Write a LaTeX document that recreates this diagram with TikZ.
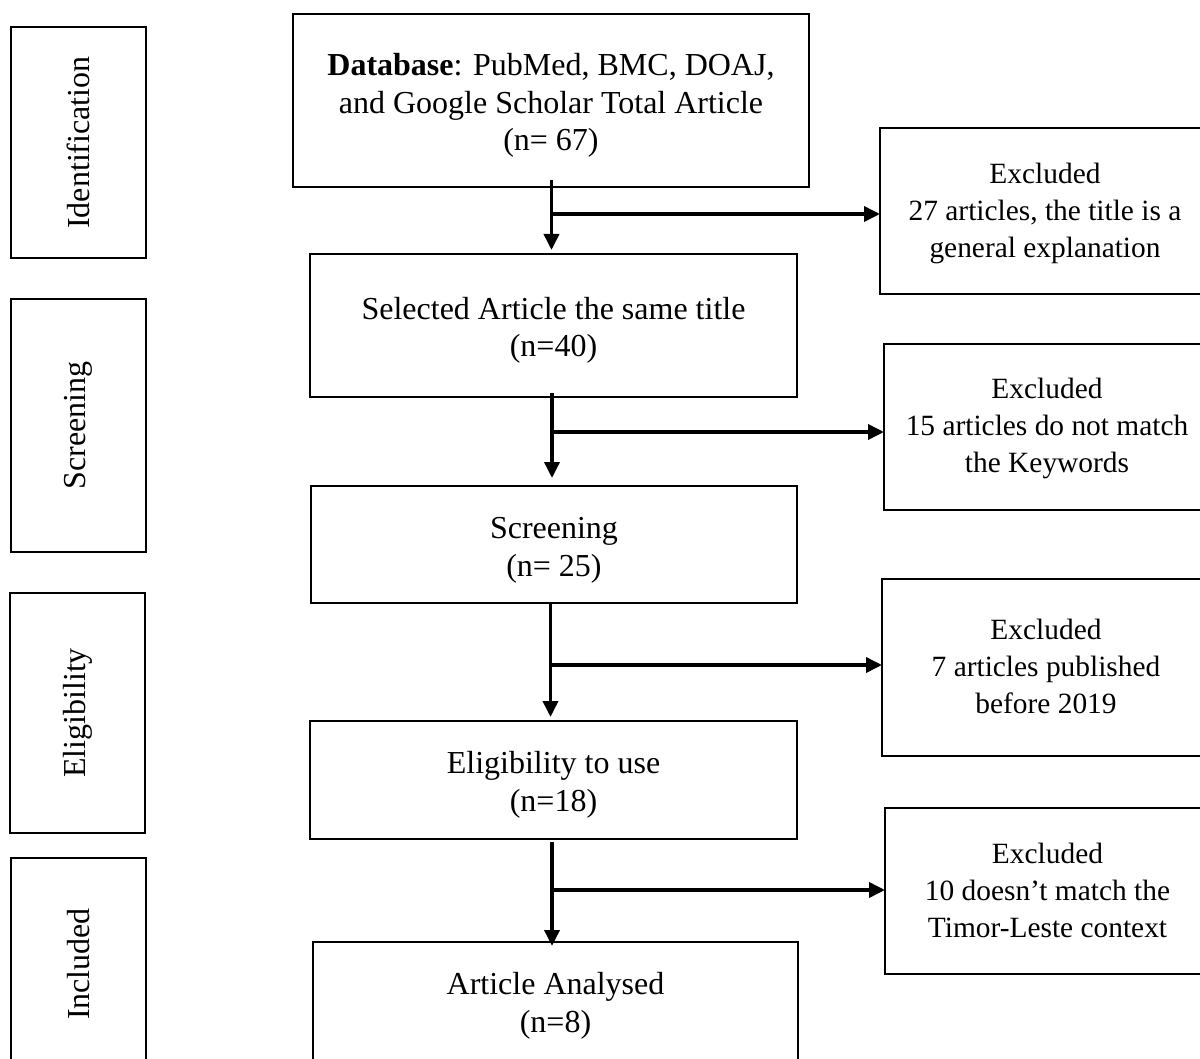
\documentclass[tikz,border=0pt]{standalone}
\usepackage{fontspec}
\setmainfont{Liberation Serif}
\usetikzlibrary{arrows.meta}
\begin{document}
\begin{tikzpicture}[x=1pt,y=-1pt,
  box/.style={draw=black, line width=2.6pt, rectangle, inner sep=0pt, outer sep=0pt},
  txt/.style={inner sep=0pt, align=center, font=\fontsize{32}{37.5}\selectfont},
  extxt/.style={inner sep=0pt, align=center, font=\fontsize{29.4}{37}\selectfont},
  stagebox/.style={box, minimum width=135pt},
  stagelabel/.style={rotate=90, font=\fontsize{32}{37.5}\selectfont, inner sep=0pt},
  arr/.style={line width=3.6pt, -{Triangle[length=16pt,width=15pt]}}]
\useasboundingbox (0,0) rectangle (1200,1059);
\clip (0,0) rectangle (1200,1059);
% stage boxes
\node[stagebox, minimum height=231pt] (sid) at (78.5,142.5) {};
\node[stagelabel] (lid) at (sid.center) {Identification};
\node[stagebox, minimum height=253pt] (sscr) at (78.5,425.5) {};
\node[stagelabel] (lscr) at (sscr.center) {Screening};
\node[stagebox, minimum height=240pt] (seli) at (77.5,713) {};
\node[stagelabel] (leli) at (seli.center) {Eligibility};
\node[stagebox, minimum height=212pt] (sinc) at (78.5,964) {};
\node[stagelabel] (linc) at (sinc.center) {Included};
% main boxes
\node[box, minimum width=516pt, minimum height=173pt] (db) at (551,100.5) {};
\node[txt] (dbt) at ([yshift=-5pt]db.center)
  {\textbf{Database}: PubMed, BMC, DOAJ,\\and Google Scholar Total Article\\(n= 67)};
\node[box, minimum width=487pt, minimum height=143pt] (sel) at (553.5,325.5) {};
\node[txt] (selt) at ([yshift=-5pt]sel.center)
  {Selected Article the same title\\(n=40)};
\node[box, minimum width=486pt, minimum height=117pt] (scr) at (554,544.5) {};
\node[txt] (scrt) at ([yshift=-6pt]scr.center)
  {Screening\\(n= 25)};
\node[box, minimum width=487pt, minimum height=118pt] (eli) at (553.5,780) {};
\node[txt] (elit) at ([yshift=-5pt]eli.center)
  {Eligibility to use\\(n=18)};
\node[box, minimum width=485pt, minimum height=124pt] (ana) at (555.5,1004) {};
\node[txt] (anat) at ([yshift=-2pt]ana.center)
  {Article Analysed\\(n=8)};
% excluded boxes
\node[box, minimum width=330pt, minimum height=166pt] (ex1) at (1045,211) {};
\node[extxt] (ex1t) at ([yshift=-2pt]ex1.center)
  {Excluded\\27 articles, the title is a\\general explanation};
\node[box, minimum width=326pt, minimum height=166pt] (ex2) at (1047,427) {};
\node[extxt] (ex2t) at ([yshift=-1pt]ex2.center)
  {Excluded\\15 articles do not match\\the Keywords};
\node[box, minimum width=328pt, minimum height=177pt] (ex3) at (1046,667.5) {};
\node[extxt] (ex3t) at ([yshift=1pt]ex3.center)
  {Excluded\\7 articles published\\before 2019};
\node[box, minimum width=325pt, minimum height=166pt] (ex4) at (1047.5,891) {};
\node[extxt] (ex4t) at ([yshift=1pt]ex4.center)
  {Excluded\\10 doesn’t match the\\Timor-Leste context};
% junctions
\coordinate (j1) at (551.5,214);
\coordinate (j2) at (552,432);
\coordinate (j3) at (550.5,665);
\coordinate (j4) at (552,890);
% connectors
\draw[arr] ([yshift=7pt]db.south -| j1) -- ([yshift=4pt]sel.north -| j1);
\draw[arr] (j1) -- (ex1.west |- j1);
\draw[arr] ([yshift=4pt]sel.south -| j2) -- ([yshift=8pt]scr.north -| j2);
\draw[arr] (j2) -- (ex2.west |- j2);
\draw[arr] (scr.south -| j3) -- ([yshift=4pt]eli.north -| j3);
\draw[arr] (j3) -- (ex3.west |- j3);
\draw[arr] ([yshift=-3pt]eli.south -| j4) -- ([yshift=-4pt]ana.north -| j4);
\draw[arr] (j4) -- (ex4.west |- j4);
\end{tikzpicture}
\end{document}
